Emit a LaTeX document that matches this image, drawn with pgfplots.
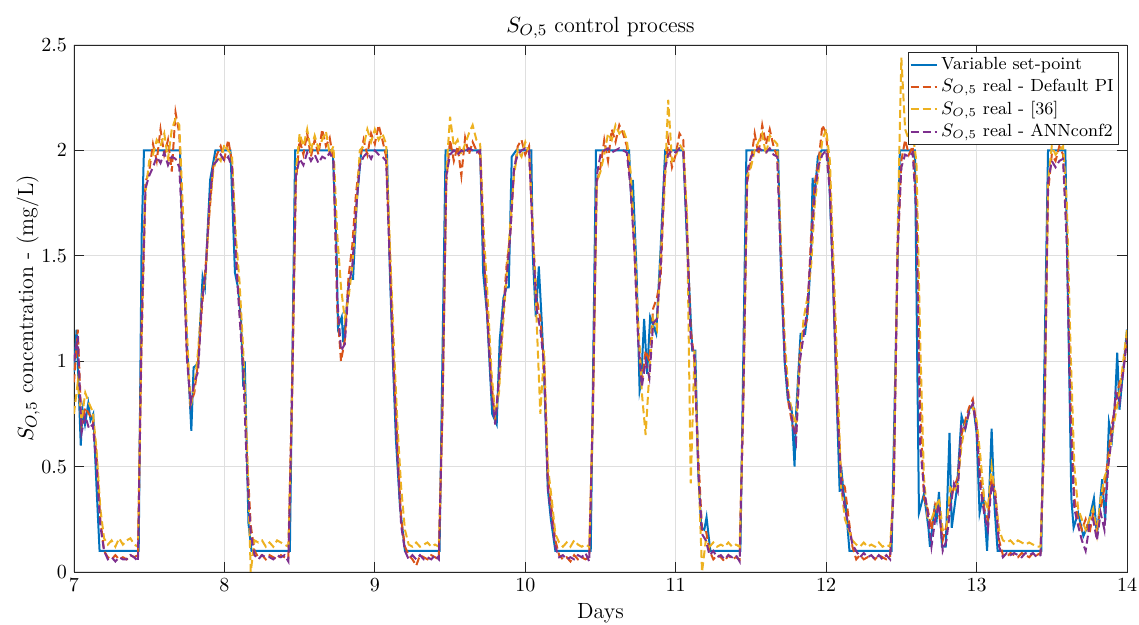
\documentclass[border=0pt]{standalone}
\usepackage{pgfplots}
\usepackage{pgfplotstable}
\pgfplotsset{compat=1.18}
\definecolor{mblue}{rgb}{0,0.447,0.741}
\definecolor{morange}{rgb}{0.85,0.325,0.098}
\definecolor{myellow}{rgb}{0.929,0.694,0.125}
\definecolor{mpurple}{rgb}{0.494,0.184,0.556}
\definecolor{axgray}{rgb}{0.15,0.15,0.15}
\definecolor{grgray}{rgb}{0.875,0.875,0.875}

% set-point (breakpoints)
\pgfplotstableread{
t y
7.000 0.95
7.017 1.15
7.045 0.60
7.057 0.77
7.073 0.70
7.095 0.80
7.110 0.72
7.128 0.75
7.150 0.40
7.170 0.10
7.430 0.10
7.450 1.60
7.465 2.00
7.705 2.00
7.720 1.57
7.750 1.10
7.780 0.67
7.795 0.97
7.825 0.99
7.855 1.40
7.870 1.35
7.905 1.86
7.940 2.00
8.040 2.00
8.070 1.42
8.090 1.35
8.110 1.20
8.125 0.88
8.135 1.00
8.160 0.23
8.180 0.10
8.435 0.10
8.470 2.00
8.720 2.00
8.745 1.54
8.755 1.16
8.780 1.21
8.790 1.09
8.810 1.23
8.830 1.39
8.855 1.39
8.880 1.76
8.910 2.00
9.080 2.00
9.100 1.42
9.120 1.00
9.140 0.63
9.167 0.31
9.200 0.10
9.430 0.10
9.470 2.00
9.700 2.00
9.720 1.42
9.745 1.23
9.780 0.75
9.810 0.70
9.830 1.10
9.855 1.30
9.875 1.35
9.890 1.35
9.910 1.97
9.940 2.00
10.040 2.00
10.050 1.50
10.070 1.21
10.090 1.45
10.110 1.18
10.125 0.94
10.150 0.39
10.170 0.25
10.200 0.10
10.435 0.10
10.470 2.00
10.690 2.00
10.705 1.75
10.715 1.86
10.740 1.42
10.760 0.86
10.770 0.90
10.790 1.20
10.810 0.94
10.830 1.21
10.870 1.13
10.900 1.54
10.930 2.00
11.050 2.00
11.075 1.57
11.110 1.05
11.130 1.05
11.150 0.47
11.170 0.21
11.190 0.20
11.205 0.26
11.230 0.10
11.430 0.10
11.470 2.00
11.680 2.00
11.700 1.42
11.725 0.99
11.745 0.82
11.770 0.78
11.790 0.50
11.800 0.75
11.830 1.13
11.860 1.13
11.880 1.26
11.900 1.51
11.910 1.87
11.920 1.76
11.945 1.97
11.970 2.00
12.010 2.00
12.020 1.87
12.040 1.50
12.065 0.94
12.090 0.38
12.100 0.50
12.115 0.38
12.130 0.32
12.155 0.10
12.435 0.10
12.490 2.00
12.590 2.00
12.617 0.28
12.650 0.37
12.680 0.21
12.690 0.12
12.720 0.30
12.735 0.25
12.750 0.38
12.770 0.12
12.795 0.12
12.820 0.66
12.835 0.21
12.870 0.40
12.900 0.74
12.925 0.68
12.955 0.78
12.980 0.78
13.000 0.66
13.020 0.28
13.045 0.37
13.070 0.10
13.100 0.68
13.120 0.30
13.140 0.10
13.430 0.10
13.475 2.00
13.590 2.00
13.610 1.20
13.630 0.35
13.645 0.21
13.675 0.28
13.710 0.17
13.740 0.22
13.780 0.35
13.800 0.17
13.835 0.44
13.855 0.24
13.880 0.71
13.900 0.63
13.920 0.80
13.935 1.04
13.950 0.77
13.980 1.00
14.000 1.15
}\setpoint

% measured S_O,5: default PI, [36], ANNconf2
\pgfplotstableread{
t pi r36 ann
7.000 0.90 0.75 1.00
7.025 1.15 0.90 1.12
7.050 0.70 0.72 0.66
7.075 0.78 0.85 0.74
7.100 0.75 0.80 0.68
7.125 0.72 0.76 0.70
7.150 0.55 0.58 0.50
7.175 0.25 0.30 0.22
7.200 0.10 0.16 0.10
7.225 0.07 0.13 0.06
7.250 0.06 0.15 0.07
7.275 0.08 0.12 0.05
7.300 0.06 0.16 0.07
7.325 0.07 0.13 0.06
7.350 0.06 0.15 0.06
7.375 0.08 0.16 0.08
7.400 0.07 0.13 0.07
7.425 0.08 0.12 0.05
7.450 1.20 1.10 1.15
7.475 1.85 1.80 1.82
7.500 1.90 1.95 1.88
7.525 2.03 1.98 1.92
7.550 1.95 2.05 1.97
7.575 2.10 2.02 1.94
7.600 1.98 2.08 1.99
7.625 2.05 1.96 1.93
7.650 1.90 2.10 1.97
7.675 2.18 2.15 1.96
7.700 2.08 2.12 1.92
7.725 1.60 1.70 1.55
7.750 1.05 1.15 1.02
7.775 0.80 0.78 0.80
7.800 0.85 0.88 0.90
7.825 1.00 1.05 0.95
7.850 1.25 1.30 1.28
7.875 1.45 1.40 1.42
7.900 1.70 1.72 1.75
7.925 1.92 1.90 1.93
7.950 1.98 1.97 1.95
7.975 2.02 1.95 1.98
8.000 1.96 2.03 1.95
8.025 2.05 2.00 1.97
8.050 1.95 1.98 1.92
8.075 1.55 1.60 1.50
8.100 1.25 1.38 1.22
8.125 1.00 1.05 0.95
8.150 0.55 0.60 0.48
8.175 0.22 0.00 0.18
8.200 0.10 0.15 0.08
8.225 0.07 0.14 0.06
8.250 0.08 0.15 0.08
8.275 0.06 0.12 0.07
8.300 0.08 0.14 0.07
8.325 0.07 0.12 0.06
8.350 0.06 0.15 0.08
8.375 0.08 0.14 0.07
8.400 0.07 0.13 0.08
8.425 0.06 0.12 0.05
8.450 0.90 0.80 0.85
8.475 1.85 1.90 1.88
8.500 2.05 2.08 1.96
8.525 1.98 2.02 1.93
8.550 2.08 2.10 1.99
8.575 1.97 2.00 1.95
8.600 2.05 2.07 1.98
8.625 1.98 2.01 1.94
8.650 2.10 2.05 1.97
8.675 2.02 2.09 1.96
8.700 2.06 1.98 1.99
8.725 1.95 2.02 1.95
8.750 1.25 1.60 1.30
8.775 1.00 1.35 1.05
8.800 1.10 1.20 1.08
8.825 1.40 1.30 1.35
8.850 1.55 1.45 1.45
8.875 1.80 1.70 1.72
8.900 1.95 2.00 1.93
8.925 2.05 2.02 1.97
8.950 1.98 2.10 1.99
8.975 2.08 2.04 1.96
9.000 2.03 2.10 2.00
9.025 2.12 2.05 1.98
9.050 2.05 2.08 1.97
9.075 1.97 2.03 1.95
9.100 1.50 1.55 1.45
9.125 1.00 1.10 0.95
9.150 0.60 0.70 0.55
9.175 0.25 0.40 0.22
9.200 0.12 0.20 0.10
9.225 0.08 0.13 0.06
9.250 0.06 0.12 0.08
9.275 0.03 0.14 0.06
9.300 0.08 0.12 0.08
9.325 0.07 0.13 0.06
9.350 0.06 0.14 0.07
9.375 0.08 0.12 0.06
9.400 0.07 0.13 0.08
9.425 0.06 0.12 0.06
9.450 0.80 0.75 0.80
9.475 1.85 1.90 1.88
9.500 2.05 2.16 1.98
9.525 1.95 2.02 2.00
9.550 2.02 2.05 1.98
9.575 1.88 1.98 2.00
9.600 2.06 2.03 1.99
9.625 1.98 2.08 2.01
9.650 2.04 2.12 2.00
9.675 2.00 2.05 1.99
9.700 1.98 2.03 2.00
9.725 1.50 1.60 1.48
9.750 1.20 1.30 1.18
9.775 0.90 0.95 0.85
9.800 0.72 0.75 0.70
9.825 0.90 0.85 0.92
9.850 1.20 1.15 1.22
9.875 1.45 1.40 1.38
9.900 1.60 1.65 1.60
9.925 1.90 1.88 1.92
9.950 2.02 2.00 1.98
9.975 2.05 1.97 2.00
10.000 1.98 2.04 2.01
10.025 2.02 1.99 2.00
10.050 1.60 1.65 1.58
10.075 1.30 1.20 1.25
10.100 1.20 0.75 1.15
10.125 1.00 1.05 0.98
10.150 0.45 0.50 0.40
10.175 0.30 0.35 0.25
10.200 0.15 0.18 0.12
10.225 0.08 0.14 0.07
10.250 0.06 0.12 0.08
10.275 0.07 0.14 0.06
10.300 0.05 0.12 0.07
10.325 0.08 0.15 0.06
10.350 0.06 0.13 0.08
10.375 0.07 0.12 0.07
10.400 0.06 0.13 0.09
10.425 0.07 0.12 0.05
10.450 0.80 0.75 0.80
10.475 1.85 1.85 1.88
10.500 1.92 1.90 1.98
10.525 2.05 1.98 2.00
10.550 1.95 2.08 2.01
10.575 2.10 2.05 1.99
10.600 2.04 2.12 2.00
10.625 2.12 2.08 2.01
10.650 2.08 2.10 2.00
10.675 2.02 2.05 1.99
10.700 1.85 1.90 1.82
10.725 1.55 1.60 1.52
10.750 1.15 1.20 1.10
10.775 0.90 0.85 0.88
10.800 1.05 0.65 1.00
10.825 1.00 0.95 0.92
10.850 1.25 1.20 1.18
10.875 1.30 1.15 1.20
10.900 1.40 1.50 1.45
10.925 1.85 1.80 1.90
10.950 2.05 2.24 1.98
10.975 1.92 1.95 2.00
11.000 1.98 1.97 1.99
11.025 2.08 2.03 2.01
11.050 2.05 2.00 2.00
11.075 1.65 1.70 1.60
11.100 1.15 0.42 1.10
11.125 1.00 1.05 1.02
11.150 0.55 0.50 0.48
11.175 0.20 0.00 0.18
11.200 0.20 0.15 0.15
11.225 0.10 0.12 0.08
11.250 0.06 0.14 0.10
11.275 0.08 0.12 0.07
11.300 0.07 0.13 0.08
11.325 0.05 0.12 0.06
11.350 0.08 0.14 0.08
11.375 0.06 0.12 0.07
11.400 0.07 0.13 0.08
11.425 0.06 0.12 0.05
11.450 0.85 0.80 0.85
11.475 1.85 1.88 1.90
11.500 1.95 1.92 1.97
11.525 2.08 2.00 1.99
11.550 1.98 2.04 2.01
11.575 2.12 2.08 2.00
11.600 2.03 1.98 1.99
11.625 2.10 2.07 2.01
11.650 2.02 2.05 1.98
11.675 1.97 2.03 1.97
11.700 1.50 1.55 1.45
11.725 1.05 1.10 1.00
11.750 0.80 0.85 0.82
11.775 0.70 0.75 0.72
11.800 0.65 0.70 0.62
11.825 1.05 1.00 1.00
11.850 1.15 1.20 1.12
11.875 1.20 1.30 1.25
11.900 1.60 1.45 1.55
11.925 1.85 1.75 1.80
11.950 1.95 1.90 1.93
11.975 2.12 2.05 1.98
12.000 2.08 2.10 2.00
12.025 1.85 1.95 1.80
12.050 1.35 1.45 1.30
12.075 0.80 0.95 0.75
12.100 0.45 0.40 0.42
12.125 0.40 0.25 0.30
12.150 0.25 0.20 0.22
12.175 0.12 0.15 0.13
12.200 0.06 0.13 0.10
12.225 0.08 0.12 0.07
12.250 0.06 0.14 0.09
12.275 0.07 0.12 0.07
12.300 0.08 0.13 0.08
12.325 0.06 0.12 0.06
12.350 0.08 0.14 0.08
12.375 0.07 0.12 0.06
12.400 0.06 0.13 0.08
12.425 0.07 0.12 0.06
12.450 0.45 0.40 0.40
12.475 1.50 1.60 1.55
12.500 1.95 2.44 1.92
12.525 2.05 2.10 1.98
12.550 1.98 2.05 1.97
12.575 2.02 2.08 1.99
12.600 1.75 1.95 1.70
12.625 0.80 1.10 0.60
12.650 0.35 0.45 0.40
12.675 0.30 0.25 0.28
12.700 0.20 0.25 0.12
12.725 0.32 0.30 0.25
12.750 0.28 0.35 0.32
12.775 0.15 0.20 0.10
12.800 0.22 0.20 0.15
12.825 0.35 0.40 0.30
12.850 0.40 0.38 0.42
12.875 0.45 0.42 0.38
12.900 0.65 0.60 0.70
12.925 0.72 0.70 0.68
12.950 0.78 0.75 0.76
12.975 0.82 0.78 0.80
13.000 0.70 0.72 0.68
13.025 0.45 0.55 0.40
13.050 0.30 0.35 0.28
13.075 0.25 0.30 0.20
13.100 0.45 0.50 0.42
13.125 0.38 0.35 0.35
13.150 0.15 0.20 0.12
13.175 0.08 0.15 0.07
13.200 0.07 0.14 0.09
13.225 0.09 0.15 0.08
13.250 0.08 0.13 0.09
13.275 0.07 0.15 0.08
13.300 0.09 0.14 0.07
13.325 0.08 0.13 0.09
13.350 0.07 0.14 0.08
13.375 0.09 0.13 0.09
13.400 0.08 0.12 0.07
13.425 0.09 0.12 0.08
13.450 0.70 0.60 0.70
13.475 1.80 1.85 1.85
13.500 1.98 2.02 1.95
13.525 1.95 1.98 1.92
13.550 2.02 2.00 1.95
13.575 1.98 2.02 1.96
13.600 1.60 1.75 1.55
13.625 0.80 1.05 0.70
13.650 0.35 0.50 0.30
13.675 0.25 0.30 0.22
13.700 0.20 0.25 0.15
13.725 0.25 0.20 0.10
13.750 0.18 0.25 0.22
13.775 0.28 0.30 0.25
13.800 0.20 0.18 0.15
13.825 0.30 0.35 0.28
13.850 0.40 0.45 0.20
13.875 0.55 0.50 0.50
13.900 0.70 0.65 0.65
13.925 0.80 0.75 0.85
13.950 0.90 0.85 0.80
13.975 0.95 1.00 0.95
14.000 1.12 1.15 1.10
}\measured

\begin{document}
\begin{tikzpicture}
% frame of the whole figure (1 px = 0.5 pt)
\path[use as bounding box] (-37pt,-26.5pt) rectangle (532.5pt,286pt);
\begin{axis}[
  scale only axis,
  width=526.5pt, height=263.5pt,
  xmin=7, xmax=14, ymin=0, ymax=2.5,
  xtick={7,8,...,14}, ytick={0,0.5,1,1.5,2,2.5},
  tick align=inside, major tick length=5pt,
  tick style={color=axgray, line width=0.4pt},
  axis line style={color=axgray, line width=0.45pt},
  grid=major, grid style={color=grgray, line width=0.5pt},
  title={$S_{O,5}$ control process},
  title style={font=\fontsize{11}{13}\selectfont, yshift=-6.5pt},
  xlabel={Days},
  ylabel={$S_{O,5}$ concentration - (mg/L)},
  label style={font=\fontsize{11}{13}\selectfont},
  xlabel style={yshift=1pt},
  ylabel style={yshift=-6pt},
  tick label style={font=\fontsize{10}{12}\selectfont},
  legend cell align=left,
  legend image code/.code={\draw[#1] (0pt,0pt) -- (13pt,0pt);},
  legend style={at={(0.9924,0.9867)}, anchor=north east,
    draw=axgray, line width=0.5pt, fill=white,
    font=\fontsize{8.8}{10.3}\selectfont,
    inner sep=0.6pt, row sep=-0.8pt,
    nodes={inner xsep=1.8pt}},
  every axis plot/.append style={line width=1pt},
]
\addplot[mblue, solid] table[x=t, y=y] {\setpoint};
\addlegendentry{Variable set-point}
\addplot[morange, dash pattern=on 4pt off 2pt] table[x=t, y=pi] {\measured};
\addlegendentry{$S_{O,5}$ real - Default PI}
\addplot[myellow, dash pattern=on 4pt off 2pt] table[x=t, y=r36] {\measured};
\addlegendentry{$S_{O,5}$ real - [36]}
\addplot[mpurple, dash pattern=on 4pt off 2pt] table[x=t, y=ann] {\measured};
\addlegendentry{$S_{O,5}$ real - ANNconf2}
\end{axis}
\end{tikzpicture}
\end{document}
